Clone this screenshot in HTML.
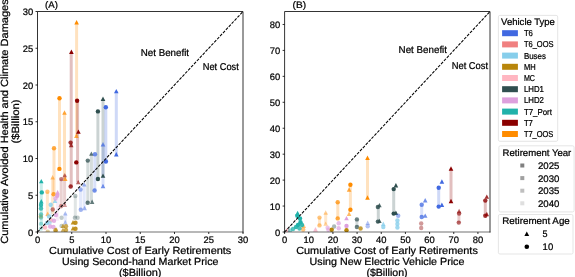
<!DOCTYPE html><html><head><meta charset="utf-8"><style>html,body{margin:0;padding:0;background:#fff;overflow:hidden}svg{display:block;will-change:transform}text{text-rendering:geometricPrecision}</style></head><body><svg width="575" height="277" viewBox="0 0 575 277" font-family="'Liberation Sans', sans-serif" fill="#000">
<defs><clipPath id="ca"><rect x="37.5" y="11.5" width="205.5" height="220.5"/></clipPath><clipPath id="cb"><rect x="284.6" y="11.5" width="205.4" height="220.5"/></clipPath></defs>
<rect width="575" height="277" fill="#fff"/>
<g clip-path="url(#ca)">
<rect x="75.10" y="22.40" width="3" height="113.60" fill="#FF8C00" fill-opacity="0.25"/>
<rect x="69.70" y="51.90" width="3" height="134.70" fill="#8B0000" fill-opacity="0.25"/>
<rect x="58.00" y="98.20" width="3" height="70.80" fill="#FF8C00" fill-opacity="0.25"/>
<rect x="76.10" y="100.80" width="3" height="81.50" fill="#8B0000" fill-opacity="0.25"/>
<rect x="63.00" y="112.70" width="3" height="66.30" fill="#FF8C00" fill-opacity="0.25"/>
<rect x="52.50" y="148.20" width="3" height="46.10" fill="#FF8C00" fill-opacity="0.25"/>
<rect x="51.10" y="177.50" width="3" height="36.50" fill="#FF8C00" fill-opacity="0.2"/>
<rect x="45.90" y="191.70" width="3" height="24.70" fill="#FF8C00" fill-opacity="0.2"/>
<rect x="63.10" y="174.70" width="3" height="30.30" fill="#8B0000" fill-opacity="0.18"/>
<rect x="59.70" y="178.80" width="3" height="27.50" fill="#8B0000" fill-opacity="0.18"/>
<rect x="96.40" y="111.40" width="3" height="67.60" fill="#2F4F4F" fill-opacity="0.25"/>
<rect x="101.50" y="99.00" width="3" height="76.80" fill="#2F4F4F" fill-opacity="0.25"/>
<rect x="86.30" y="160.60" width="3" height="42.30" fill="#2F4F4F" fill-opacity="0.2"/>
<rect x="89.90" y="153.80" width="3" height="48.10" fill="#2F4F4F" fill-opacity="0.2"/>
<rect x="73.80" y="196.00" width="3" height="21.70" fill="#2F4F4F" fill-opacity="0.15"/>
<rect x="114.80" y="91.30" width="3" height="63.10" fill="#4169E1" fill-opacity="0.25"/>
<rect x="104.30" y="107.20" width="3" height="54.30" fill="#4169E1" fill-opacity="0.25"/>
<rect x="101.50" y="144.40" width="3" height="41.80" fill="#4169E1" fill-opacity="0.2"/>
<rect x="93.30" y="154.30" width="3" height="36.20" fill="#4169E1" fill-opacity="0.2"/>
<rect x="82.70" y="184.40" width="3" height="23.90" fill="#4169E1" fill-opacity="0.15"/>
<rect x="79.10" y="189.50" width="3" height="20.30" fill="#4169E1" fill-opacity="0.15"/>
<rect x="39.80" y="181.30" width="3" height="43.70" fill="#20B2AA" fill-opacity="0.25"/>
<rect x="49.20" y="204.70" width="3" height="18.00" fill="#87CEEB" fill-opacity="0.2"/>
<rect x="55.90" y="192.40" width="3" height="28.40" fill="#DDA0DD" fill-opacity="0.2"/>
<rect x="63.80" y="213.50" width="3" height="9.00" fill="#4169E1" fill-opacity="0.15"/>
<path d="M76.60 20.00L78.90 24.40L74.30 24.40Z" fill="#FF8C00" fill-opacity="1"/>
<path d="M76.40 133.50L78.70 137.90L74.10 137.90Z" fill="#FF8C00" fill-opacity="0.75"/>
<path d="M71.40 49.50L73.70 53.90L69.10 53.90Z" fill="#8B0000" fill-opacity="1"/>
<circle cx="70.6" cy="142.6" r="2.2" fill="#8B0000" fill-opacity="0.75"/>
<path d="M71.20 142.80L73.50 147.20L68.90 147.20Z" fill="#8B0000" fill-opacity="0.75"/>
<circle cx="59.5" cy="98.2" r="2.2" fill="#FF8C00" fill-opacity="1"/>
<circle cx="59.4" cy="168.9" r="2.2" fill="#FF8C00" fill-opacity="1"/>
<circle cx="77.1" cy="100.8" r="2.2" fill="#8B0000" fill-opacity="1"/>
<circle cx="76.3" cy="162.4" r="2.2" fill="#8B0000" fill-opacity="1"/>
<path d="M78.40 129.40L80.70 133.80L76.10 133.80Z" fill="#8B0000" fill-opacity="1"/>
<path d="M64.50 110.30L66.80 114.70L62.20 114.70Z" fill="#FF8C00" fill-opacity="0.75"/>
<path d="M65.20 176.60L67.50 181.00L62.90 181.00Z" fill="#FF8C00" fill-opacity="0.75"/>
<circle cx="54" cy="148.2" r="2.2" fill="#FF8C00" fill-opacity="0.75"/>
<circle cx="53.6" cy="194.3" r="2.2" fill="#FF8C00" fill-opacity="0.75"/>
<path d="M52.60 175.10L54.90 179.50L50.30 179.50Z" fill="#FF8C00" fill-opacity="0.5"/>
<path d="M47.70 211.50L50.00 215.90L45.40 215.90Z" fill="#FF8C00" fill-opacity="0.5"/>
<circle cx="47.4" cy="191.7" r="2.2" fill="#FF8C00" fill-opacity="0.5"/>
<circle cx="40.8" cy="216.4" r="2.2" fill="#FF8C00" fill-opacity="0.5"/>
<path d="M64.80 172.90L67.10 177.30L62.50 177.30Z" fill="#8B0000" fill-opacity="0.5"/>
<circle cx="70.7" cy="186.5" r="2.2" fill="#8B0000" fill-opacity="0.8"/>
<path d="M78.20 179.90L80.50 184.30L75.90 184.30Z" fill="#8B0000" fill-opacity="0.6"/>
<path d="M64.80 202.60L67.10 207.00L62.50 207.00Z" fill="#8B0000" fill-opacity="0.4"/>
<circle cx="61" cy="206.3" r="2.2" fill="#8B0000" fill-opacity="0.4"/>
<circle cx="52.8" cy="209.5" r="2.2" fill="#8B0000" fill-opacity="0.5"/>
<circle cx="61.3" cy="179.1" r="2.2" fill="#8B0000" fill-opacity="0.5"/>
<circle cx="50.9" cy="220.2" r="2.2" fill="#FFB6C1" fill-opacity="0.9"/>
<circle cx="45" cy="227.5" r="2.2" fill="#FFB6C1" fill-opacity="0.9"/>
<circle cx="97.9" cy="111.4" r="2.2" fill="#2F4F4F" fill-opacity="1"/>
<path d="M103.00 96.60L105.30 101.00L100.70 101.00Z" fill="#2F4F4F" fill-opacity="1"/>
<circle cx="97.9" cy="179" r="2.2" fill="#2F4F4F" fill-opacity="1"/>
<path d="M103.00 173.40L105.30 177.80L100.70 177.80Z" fill="#2F4F4F" fill-opacity="1"/>
<circle cx="87.8" cy="160.6" r="2.2" fill="#2F4F4F" fill-opacity="0.75"/>
<path d="M91.40 151.40L93.70 155.80L89.10 155.80Z" fill="#2F4F4F" fill-opacity="0.75"/>
<circle cx="87.7" cy="202.8" r="2.2" fill="#2F4F4F" fill-opacity="0.75"/>
<path d="M92.10 199.50L94.40 203.90L89.80 203.90Z" fill="#2F4F4F" fill-opacity="0.75"/>
<circle cx="75.3" cy="196" r="2.2" fill="#2F4F4F" fill-opacity="0.35"/>
<circle cx="74.9" cy="217.7" r="2.2" fill="#2F4F4F" fill-opacity="0.35"/>
<circle cx="61.6" cy="217.7" r="2.2" fill="#2F4F4F" fill-opacity="0.3"/>
<circle cx="61.6" cy="225.9" r="2.2" fill="#2F4F4F" fill-opacity="0.3"/>
<circle cx="77.6" cy="217.7" r="2.2" fill="#2F4F4F" fill-opacity="0.3"/>
<path d="M116.30 88.90L118.60 93.30L114.00 93.30Z" fill="#4169E1" fill-opacity="1"/>
<path d="M116.30 152.00L118.60 156.40L114.00 156.40Z" fill="#4169E1" fill-opacity="1"/>
<circle cx="105.8" cy="107.2" r="2.2" fill="#4169E1" fill-opacity="1"/>
<circle cx="105.9" cy="161.5" r="2.2" fill="#4169E1" fill-opacity="1"/>
<path d="M103.00 142.00L105.30 146.40L100.70 146.40Z" fill="#4169E1" fill-opacity="0.75"/>
<path d="M103.00 183.80L105.30 188.20L100.70 188.20Z" fill="#4169E1" fill-opacity="0.75"/>
<circle cx="95" cy="154.3" r="2.2" fill="#4169E1" fill-opacity="0.75"/>
<circle cx="94.6" cy="190.5" r="2.2" fill="#4169E1" fill-opacity="0.75"/>
<path d="M84.20 182.00L86.50 186.40L81.90 186.40Z" fill="#4169E1" fill-opacity="0.5"/>
<path d="M84.60 205.80L86.90 210.20L82.30 210.20Z" fill="#4169E1" fill-opacity="0.5"/>
<circle cx="80.6" cy="189.5" r="2.2" fill="#4169E1" fill-opacity="0.5"/>
<circle cx="80.8" cy="209.8" r="2.2" fill="#4169E1" fill-opacity="0.5"/>
<path d="M65.30 211.10L67.60 215.50L63.00 215.50Z" fill="#4169E1" fill-opacity="0.4"/>
<path d="M65.30 220.10L67.60 224.50L63.00 224.50Z" fill="#4169E1" fill-opacity="0.4"/>
<circle cx="50.7" cy="204.7" r="2.2" fill="#87CEEB" fill-opacity="0.8"/>
<path d="M55.00 198.60L57.30 203.00L52.70 203.00Z" fill="#87CEEB" fill-opacity="0.8"/>
<circle cx="49" cy="216.4" r="2.2" fill="#87CEEB" fill-opacity="0.8"/>
<circle cx="47" cy="223" r="2.2" fill="#87CEEB" fill-opacity="0.8"/>
<circle cx="49.6" cy="222.7" r="2.2" fill="#87CEEB" fill-opacity="0.6"/>
<path d="M57.60 190.00L59.90 194.40L55.30 194.40Z" fill="#DDA0DD" fill-opacity="0.9"/>
<circle cx="57.2" cy="195.7" r="2.2" fill="#DDA0DD" fill-opacity="0.9"/>
<circle cx="55.9" cy="215" r="2.2" fill="#DDA0DD" fill-opacity="0.8"/>
<circle cx="54" cy="220.8" r="2.2" fill="#DDA0DD" fill-opacity="0.8"/>
<circle cx="50.2" cy="226.5" r="2.2" fill="#DDA0DD" fill-opacity="0.8"/>
<circle cx="53.4" cy="227" r="2.2" fill="#DDA0DD" fill-opacity="0.8"/>
<circle cx="55.5" cy="198.5" r="2.2" fill="#DDA0DD" fill-opacity="0.7"/>
<path d="M41.30 178.90L43.60 183.30L39.00 183.30Z" fill="#20B2AA" fill-opacity="1"/>
<circle cx="41.8" cy="192.4" r="2.2" fill="#20B2AA" fill-opacity="1"/>
<path d="M41.30 199.00L43.60 203.40L39.00 203.40Z" fill="#20B2AA" fill-opacity="1"/>
<circle cx="41" cy="205" r="2.2" fill="#20B2AA" fill-opacity="0.9"/>
<circle cx="41" cy="208.5" r="2.2" fill="#20B2AA" fill-opacity="0.8"/>
<circle cx="41" cy="214.5" r="2.2" fill="#20B2AA" fill-opacity="0.6"/>
<circle cx="41" cy="217.6" r="2.2" fill="#20B2AA" fill-opacity="0.5"/>
<circle cx="41" cy="223.9" r="2.2" fill="#20B2AA" fill-opacity="0.4"/>
<circle cx="41" cy="228.5" r="2.2" fill="#20B2AA" fill-opacity="0.3"/>
<path d="M73.00 220.10L75.30 224.50L70.70 224.50Z" fill="#B8860B" fill-opacity="0.9"/>
<circle cx="75.5" cy="222.7" r="2.2" fill="#B8860B" fill-opacity="0.9"/>
<path d="M73.00 226.10L75.30 230.50L70.70 230.50Z" fill="#B8860B" fill-opacity="0.9"/>
<circle cx="75.5" cy="228.7" r="2.2" fill="#B8860B" fill-opacity="0.9"/>
<path d="M63.00 223.60L65.30 228.00L60.70 228.00Z" fill="#B8860B" fill-opacity="0.7"/>
<circle cx="66" cy="226.2" r="2.2" fill="#B8860B" fill-opacity="0.7"/>
<path d="M63.00 227.40L65.30 231.80L60.70 231.80Z" fill="#B8860B" fill-opacity="0.7"/>
<circle cx="66" cy="230" r="2.2" fill="#B8860B" fill-opacity="0.7"/>
<circle cx="55.5" cy="230.3" r="2.2" fill="#B8860B" fill-opacity="0.7"/>
<path d="M56.00 227.10L58.30 231.50L53.70 231.50Z" fill="#B8860B" fill-opacity="0.6"/>
<circle cx="47.7" cy="231.8" r="2.2" fill="#B8860B" fill-opacity="0.4"/>
</g>
<line x1="37.5" y1="232" x2="243" y2="11.5" stroke="#000" stroke-width="1.05" stroke-dasharray="3.0 1.25"/>
<path d="M37.5 232V11.5H243V232" fill="none" stroke="#000" stroke-width="0.8" stroke-linecap="square"/>
<line x1="37.1" y1="232" x2="243.4" y2="232" stroke="#000" stroke-width="0.56"/>
<line x1="37.50" y1="232" x2="37.50" y2="234" stroke="#000" stroke-width="0.8"/>
<text x="37.50" y="242.6" font-size="9.4" text-anchor="middle" stroke="#000" stroke-width="0.24" >0</text>
<line x1="71.75" y1="232" x2="71.75" y2="234" stroke="#000" stroke-width="0.8"/>
<text x="71.75" y="242.6" font-size="9.4" text-anchor="middle" stroke="#000" stroke-width="0.24" >5</text>
<line x1="106.00" y1="232" x2="106.00" y2="234" stroke="#000" stroke-width="0.8"/>
<text x="106.00" y="242.6" font-size="9.4" text-anchor="middle" stroke="#000" stroke-width="0.24" >10</text>
<line x1="140.25" y1="232" x2="140.25" y2="234" stroke="#000" stroke-width="0.8"/>
<text x="140.25" y="242.6" font-size="9.4" text-anchor="middle" stroke="#000" stroke-width="0.24" >15</text>
<line x1="174.50" y1="232" x2="174.50" y2="234" stroke="#000" stroke-width="0.8"/>
<text x="174.50" y="242.6" font-size="9.4" text-anchor="middle" stroke="#000" stroke-width="0.24" >20</text>
<line x1="208.75" y1="232" x2="208.75" y2="234" stroke="#000" stroke-width="0.8"/>
<text x="208.75" y="242.6" font-size="9.4" text-anchor="middle" stroke="#000" stroke-width="0.24" >25</text>
<line x1="243.00" y1="232" x2="243.00" y2="234" stroke="#000" stroke-width="0.8"/>
<text x="243.00" y="242.6" font-size="9.4" text-anchor="middle" stroke="#000" stroke-width="0.24" >30</text>
<line x1="35.5" y1="232.00" x2="37.5" y2="232.00" stroke="#000" stroke-width="0.8"/>
<text x="33.20" y="235.50" font-size="9.4" text-anchor="end" stroke="#000" stroke-width="0.24" >0</text>
<line x1="35.5" y1="195.25" x2="37.5" y2="195.25" stroke="#000" stroke-width="0.8"/>
<text x="33.20" y="198.75" font-size="9.4" text-anchor="end" stroke="#000" stroke-width="0.24" >5</text>
<line x1="35.5" y1="158.50" x2="37.5" y2="158.50" stroke="#000" stroke-width="0.8"/>
<text x="33.20" y="162.00" font-size="9.4" text-anchor="end" stroke="#000" stroke-width="0.24" >10</text>
<line x1="35.5" y1="121.75" x2="37.5" y2="121.75" stroke="#000" stroke-width="0.8"/>
<text x="33.20" y="125.25" font-size="9.4" text-anchor="end" stroke="#000" stroke-width="0.24" >15</text>
<line x1="35.5" y1="85.00" x2="37.5" y2="85.00" stroke="#000" stroke-width="0.8"/>
<text x="33.20" y="88.50" font-size="9.4" text-anchor="end" stroke="#000" stroke-width="0.24" >20</text>
<line x1="35.5" y1="48.25" x2="37.5" y2="48.25" stroke="#000" stroke-width="0.8"/>
<text x="33.20" y="51.75" font-size="9.4" text-anchor="end" stroke="#000" stroke-width="0.24" >25</text>
<line x1="35.5" y1="11.50" x2="37.5" y2="11.50" stroke="#000" stroke-width="0.8"/>
<text x="33.20" y="15.00" font-size="9.4" text-anchor="end" stroke="#000" stroke-width="0.24" >30</text>
<text x="45.1" y="7.7" font-size="9.5" text-anchor="start" textLength="12.8" lengthAdjust="spacingAndGlyphs" stroke="#000" stroke-width="0.24" >(A)</text>
<text x="140.7" y="55.8" font-size="9.9" text-anchor="start" textLength="48.4" lengthAdjust="spacingAndGlyphs" stroke="#000" stroke-width="0.24" >Net Benefit</text>
<text x="202.7" y="69.9" font-size="9.9" text-anchor="start" textLength="36.1" lengthAdjust="spacingAndGlyphs" stroke="#000" stroke-width="0.24" >Net Cost</text>
<text x="140.2" y="253.5" font-size="10.4" text-anchor="middle" textLength="182.3" lengthAdjust="spacingAndGlyphs" stroke="#000" stroke-width="0.24" >Cumulative Cost of Early Retirements</text>
<text x="140.2" y="264.5" font-size="10.4" text-anchor="middle" textLength="156.4" lengthAdjust="spacingAndGlyphs" stroke="#000" stroke-width="0.24" >Using Second-hand Market Price</text>
<text x="140.2" y="275.5" font-size="10.4" text-anchor="middle" textLength="42.6" lengthAdjust="spacingAndGlyphs" stroke="#000" stroke-width="0.24" >($Billion)</text>
<g transform="rotate(-90)">
<text x="-121.5" y="8.2" font-size="10.4" text-anchor="middle" textLength="244.5" lengthAdjust="spacingAndGlyphs" stroke="#000" stroke-width="0.24" >Cumulative Avoided Health and Climate Damages</text>
<text x="-121.5" y="19.3" font-size="10.4" text-anchor="middle" textLength="44" lengthAdjust="spacingAndGlyphs" stroke="#000" stroke-width="0.24" >($Billion)</text>
</g>
<g clip-path="url(#cb)">
<rect x="366.00" y="158.00" width="3" height="39.70" fill="#FF8C00" fill-opacity="0.25"/>
<rect x="348.90" y="184.70" width="3" height="25.00" fill="#FF8C00" fill-opacity="0.25"/>
<rect x="336.30" y="202.20" width="3" height="16.20" fill="#FF8C00" fill-opacity="0.25"/>
<rect x="318.00" y="217.60" width="3" height="7.80" fill="#FF8C00" fill-opacity="0.2"/>
<rect x="324.20" y="212.70" width="3" height="11.10" fill="#FF8C00" fill-opacity="0.2"/>
<rect x="392.20" y="189.10" width="3" height="24.50" fill="#2F4F4F" fill-opacity="0.25"/>
<rect x="376.80" y="207.00" width="3" height="14.60" fill="#2F4F4F" fill-opacity="0.25"/>
<rect x="355.40" y="219.40" width="3" height="7.60" fill="#2F4F4F" fill-opacity="0.2"/>
<rect x="437.20" y="187.70" width="3" height="18.90" fill="#4169E1" fill-opacity="0.25"/>
<rect x="420.20" y="204.70" width="3" height="12.30" fill="#4169E1" fill-opacity="0.2"/>
<rect x="449.50" y="168.70" width="3" height="32.50" fill="#8B0000" fill-opacity="0.25"/>
<rect x="483.80" y="200.60" width="3" height="15.20" fill="#8B0000" fill-opacity="0.25"/>
<rect x="457.40" y="213.50" width="3" height="9.10" fill="#8B0000" fill-opacity="0.2"/>
<path d="M367.50 155.60L369.80 160.00L365.20 160.00Z" fill="#FF8C00" fill-opacity="1"/>
<path d="M367.50 195.30L369.80 199.70L365.20 199.70Z" fill="#FF8C00" fill-opacity="1"/>
<circle cx="350.4" cy="184.7" r="2.2" fill="#FF8C00" fill-opacity="1"/>
<path d="M349.10 187.30L351.40 191.70L346.80 191.70Z" fill="#FF8C00" fill-opacity="0.75"/>
<circle cx="350.4" cy="209.7" r="2.2" fill="#FF8C00" fill-opacity="1"/>
<path d="M349.10 211.60L351.40 216.00L346.80 216.00Z" fill="#FF8C00" fill-opacity="0.6"/>
<circle cx="337.7" cy="202.2" r="2.2" fill="#FF8C00" fill-opacity="0.75"/>
<circle cx="337.7" cy="218.4" r="2.2" fill="#FF8C00" fill-opacity="0.75"/>
<circle cx="319.5" cy="217.6" r="2.2" fill="#FF8C00" fill-opacity="0.5"/>
<circle cx="319.5" cy="225.4" r="2.2" fill="#FF8C00" fill-opacity="0.5"/>
<path d="M325.70 210.30L328.00 214.70L323.40 214.70Z" fill="#FF8C00" fill-opacity="0.4"/>
<path d="M325.70 221.40L328.00 225.80L323.40 225.80Z" fill="#FF8C00" fill-opacity="0.4"/>
<path d="M303.70 223.60L306.00 228.00L301.40 228.00Z" fill="#FF8C00" fill-opacity="0.5"/>
<circle cx="303.2" cy="229.5" r="2.2" fill="#FF8C00" fill-opacity="0.5"/>
<path d="M395.90 183.00L398.20 187.40L393.60 187.40Z" fill="#2F4F4F" fill-opacity="1"/>
<circle cx="393.7" cy="189.1" r="2.2" fill="#2F4F4F" fill-opacity="1"/>
<circle cx="393.7" cy="213.6" r="2.2" fill="#2F4F4F" fill-opacity="1"/>
<path d="M395.90 210.50L398.20 214.90L393.60 214.90Z" fill="#2F4F4F" fill-opacity="1"/>
<path d="M379.40 202.90L381.70 207.30L377.10 207.30Z" fill="#2F4F4F" fill-opacity="0.85"/>
<circle cx="377.9" cy="207" r="2.2" fill="#2F4F4F" fill-opacity="0.85"/>
<circle cx="377.9" cy="221.6" r="2.2" fill="#2F4F4F" fill-opacity="0.85"/>
<path d="M379.40 218.70L381.70 223.10L377.10 223.10Z" fill="#2F4F4F" fill-opacity="0.85"/>
<circle cx="356.9" cy="219.4" r="2.2" fill="#2F4F4F" fill-opacity="0.7"/>
<circle cx="356.9" cy="227" r="2.2" fill="#2F4F4F" fill-opacity="0.7"/>
<circle cx="334.1" cy="226.5" r="2.2" fill="#2F4F4F" fill-opacity="0.4"/>
<path d="M441.90 179.30L444.20 183.70L439.60 183.70Z" fill="#4169E1" fill-opacity="1"/>
<circle cx="438.7" cy="187.7" r="2.2" fill="#4169E1" fill-opacity="1"/>
<circle cx="438.7" cy="206.6" r="2.2" fill="#4169E1" fill-opacity="1"/>
<path d="M441.90 202.60L444.20 207.00L439.60 207.00Z" fill="#4169E1" fill-opacity="1"/>
<path d="M425.20 198.10L427.50 202.50L422.90 202.50Z" fill="#4169E1" fill-opacity="0.75"/>
<circle cx="421.7" cy="204.7" r="2.2" fill="#4169E1" fill-opacity="0.75"/>
<circle cx="421.7" cy="217" r="2.2" fill="#4169E1" fill-opacity="0.75"/>
<path d="M425.20 213.40L427.50 217.80L422.90 217.80Z" fill="#4169E1" fill-opacity="0.75"/>
<circle cx="398.2" cy="215.8" r="2.2" fill="#4169E1" fill-opacity="0.5"/>
<circle cx="367.7" cy="226.3" r="2.2" fill="#4169E1" fill-opacity="0.4"/>
<path d="M367.70 220.60L370.00 225.00L365.40 225.00Z" fill="#4169E1" fill-opacity="0.4"/>
<circle cx="383.3" cy="227" r="2.2" fill="#87CEEB" fill-opacity="0.8"/>
<path d="M383.30 221.60L385.60 226.00L381.00 226.00Z" fill="#87CEEB" fill-opacity="0.8"/>
<circle cx="397.4" cy="220.5" r="2.2" fill="#87CEEB" fill-opacity="0.8"/>
<circle cx="397.4" cy="224" r="2.2" fill="#87CEEB" fill-opacity="0.8"/>
<circle cx="397.4" cy="227.5" r="2.2" fill="#87CEEB" fill-opacity="0.8"/>
<circle cx="421.2" cy="223.5" r="2.2" fill="#8B0000" fill-opacity="0.4"/>
<circle cx="421.2" cy="228" r="2.2" fill="#8B0000" fill-opacity="0.4"/>
<path d="M451.00 166.30L453.30 170.70L448.70 170.70Z" fill="#8B0000" fill-opacity="1"/>
<path d="M451.00 198.80L453.30 203.20L448.70 203.20Z" fill="#8B0000" fill-opacity="1"/>
<path d="M486.80 194.40L489.10 198.80L484.50 198.80Z" fill="#8B0000" fill-opacity="0.8"/>
<circle cx="485.3" cy="200.6" r="2.2" fill="#8B0000" fill-opacity="0.8"/>
<circle cx="485.3" cy="215.8" r="2.2" fill="#8B0000" fill-opacity="0.8"/>
<path d="M486.80 211.80L489.10 216.20L484.50 216.20Z" fill="#8B0000" fill-opacity="0.8"/>
<path d="M459.10 208.80L461.40 213.20L456.80 213.20Z" fill="#8B0000" fill-opacity="0.6"/>
<circle cx="459.1" cy="213.5" r="2.2" fill="#8B0000" fill-opacity="0.6"/>
<circle cx="458.8" cy="222.6" r="2.2" fill="#8B0000" fill-opacity="0.6"/>
<path d="M346.50 215.90L348.80 220.30L344.20 220.30Z" fill="#DDA0DD" fill-opacity="1"/>
<circle cx="346.5" cy="225.9" r="2.2" fill="#DDA0DD" fill-opacity="1"/>
<circle cx="338.7" cy="223.3" r="2.2" fill="#DDA0DD" fill-opacity="0.7"/>
<circle cx="338.7" cy="228.2" r="2.2" fill="#DDA0DD" fill-opacity="0.7"/>
<circle cx="327.6" cy="227.7" r="2.2" fill="#DDA0DD" fill-opacity="0.6"/>
<circle cx="328.4" cy="229.8" r="2.2" fill="#DDA0DD" fill-opacity="0.6"/>
<path d="M315.40 227.10L317.70 231.50L313.10 231.50Z" fill="#DDA0DD" fill-opacity="0.5"/>
<circle cx="346.5" cy="230.2" r="2.2" fill="#B8860B" fill-opacity="1"/>
<circle cx="331.7" cy="229.8" r="2.2" fill="#B8860B" fill-opacity="1"/>
<circle cx="360.6" cy="228.5" r="2.2" fill="#B8860B" fill-opacity="0.8"/>
<circle cx="287.8" cy="230.4" r="2.2" fill="#FFB6C1" fill-opacity="0.9"/>
<path d="M315.60 227.40L317.90 231.80L313.30 231.80Z" fill="#FFB6C1" fill-opacity="0.7"/>
<path d="M297.60 210.80L299.90 215.20L295.30 215.20Z" fill="#20B2AA" fill-opacity="1"/>
<circle cx="297.3" cy="215.8" r="2.2" fill="#20B2AA" fill-opacity="1"/>
<circle cx="300" cy="218.5" r="2.2" fill="#20B2AA" fill-opacity="1"/>
<circle cx="300.5" cy="222.3" r="2.2" fill="#20B2AA" fill-opacity="1"/>
<circle cx="302" cy="225" r="2.2" fill="#20B2AA" fill-opacity="0.9"/>
<circle cx="298" cy="225" r="2.2" fill="#20B2AA" fill-opacity="1"/>
<circle cx="296" cy="227" r="2.2" fill="#20B2AA" fill-opacity="0.9"/>
<circle cx="293" cy="229" r="2.2" fill="#20B2AA" fill-opacity="0.75"/>
<circle cx="290" cy="230.5" r="2.2" fill="#20B2AA" fill-opacity="0.5"/>
<circle cx="299.5" cy="228.5" r="2.2" fill="#20B2AA" fill-opacity="0.8"/>
</g>
<line x1="284.6" y1="232" x2="490" y2="11.5" stroke="#000" stroke-width="1.05" stroke-dasharray="3.0 1.25"/>
<path d="M284.6 232V11.5H490V232" fill="none" stroke="#000" stroke-width="0.8" stroke-linecap="square"/>
<line x1="284.20000000000005" y1="232" x2="490.4" y2="232" stroke="#000" stroke-width="0.56"/>
<line x1="284.60" y1="232" x2="284.60" y2="234" stroke="#000" stroke-width="0.8"/>
<text x="284.60" y="242.6" font-size="9.4" text-anchor="middle" stroke="#000" stroke-width="0.24" >0</text>
<line x1="308.76" y1="232" x2="308.76" y2="234" stroke="#000" stroke-width="0.8"/>
<text x="308.76" y="242.6" font-size="9.4" text-anchor="middle" stroke="#000" stroke-width="0.24" >10</text>
<line x1="332.93" y1="232" x2="332.93" y2="234" stroke="#000" stroke-width="0.8"/>
<text x="332.93" y="242.6" font-size="9.4" text-anchor="middle" stroke="#000" stroke-width="0.24" >20</text>
<line x1="357.09" y1="232" x2="357.09" y2="234" stroke="#000" stroke-width="0.8"/>
<text x="357.09" y="242.6" font-size="9.4" text-anchor="middle" stroke="#000" stroke-width="0.24" >30</text>
<line x1="381.26" y1="232" x2="381.26" y2="234" stroke="#000" stroke-width="0.8"/>
<text x="381.26" y="242.6" font-size="9.4" text-anchor="middle" stroke="#000" stroke-width="0.24" >40</text>
<line x1="405.42" y1="232" x2="405.42" y2="234" stroke="#000" stroke-width="0.8"/>
<text x="405.42" y="242.6" font-size="9.4" text-anchor="middle" stroke="#000" stroke-width="0.24" >50</text>
<line x1="429.59" y1="232" x2="429.59" y2="234" stroke="#000" stroke-width="0.8"/>
<text x="429.59" y="242.6" font-size="9.4" text-anchor="middle" stroke="#000" stroke-width="0.24" >60</text>
<line x1="453.75" y1="232" x2="453.75" y2="234" stroke="#000" stroke-width="0.8"/>
<text x="453.75" y="242.6" font-size="9.4" text-anchor="middle" stroke="#000" stroke-width="0.24" >70</text>
<line x1="477.92" y1="232" x2="477.92" y2="234" stroke="#000" stroke-width="0.8"/>
<text x="477.92" y="242.6" font-size="9.4" text-anchor="middle" stroke="#000" stroke-width="0.24" >80</text>
<line x1="282.6" y1="232.00" x2="284.6" y2="232.00" stroke="#000" stroke-width="0.8"/>
<text x="280.30" y="235.50" font-size="9.4" text-anchor="end" stroke="#000" stroke-width="0.24" >0</text>
<line x1="282.6" y1="206.06" x2="284.6" y2="206.06" stroke="#000" stroke-width="0.8"/>
<text x="280.30" y="209.56" font-size="9.4" text-anchor="end" stroke="#000" stroke-width="0.24" >10</text>
<line x1="282.6" y1="180.12" x2="284.6" y2="180.12" stroke="#000" stroke-width="0.8"/>
<text x="280.30" y="183.62" font-size="9.4" text-anchor="end" stroke="#000" stroke-width="0.24" >20</text>
<line x1="282.6" y1="154.18" x2="284.6" y2="154.18" stroke="#000" stroke-width="0.8"/>
<text x="280.30" y="157.68" font-size="9.4" text-anchor="end" stroke="#000" stroke-width="0.24" >30</text>
<line x1="282.6" y1="128.24" x2="284.6" y2="128.24" stroke="#000" stroke-width="0.8"/>
<text x="280.30" y="131.74" font-size="9.4" text-anchor="end" stroke="#000" stroke-width="0.24" >40</text>
<line x1="282.6" y1="102.29" x2="284.6" y2="102.29" stroke="#000" stroke-width="0.8"/>
<text x="280.30" y="105.79" font-size="9.4" text-anchor="end" stroke="#000" stroke-width="0.24" >50</text>
<line x1="282.6" y1="76.35" x2="284.6" y2="76.35" stroke="#000" stroke-width="0.8"/>
<text x="280.30" y="79.85" font-size="9.4" text-anchor="end" stroke="#000" stroke-width="0.24" >60</text>
<line x1="282.6" y1="50.41" x2="284.6" y2="50.41" stroke="#000" stroke-width="0.8"/>
<text x="280.30" y="53.91" font-size="9.4" text-anchor="end" stroke="#000" stroke-width="0.24" >70</text>
<line x1="282.6" y1="24.47" x2="284.6" y2="24.47" stroke="#000" stroke-width="0.8"/>
<text x="280.30" y="27.97" font-size="9.4" text-anchor="end" stroke="#000" stroke-width="0.24" >80</text>
<text x="292.6" y="7.7" font-size="9.5" text-anchor="start" textLength="13.5" lengthAdjust="spacingAndGlyphs" stroke="#000" stroke-width="0.24" >(B)</text>
<text x="398.6" y="53.2" font-size="9.9" text-anchor="start" textLength="48.4" lengthAdjust="spacingAndGlyphs" stroke="#000" stroke-width="0.24" >Net Benefit</text>
<text x="451.7" y="68.9" font-size="9.9" text-anchor="start" textLength="36.4" lengthAdjust="spacingAndGlyphs" stroke="#000" stroke-width="0.24" >Net Cost</text>
<text x="387" y="253.5" font-size="10.4" text-anchor="middle" textLength="181.7" lengthAdjust="spacingAndGlyphs" stroke="#000" stroke-width="0.24" >Cumulative Cost of Early Retirements</text>
<text x="387" y="264.5" font-size="10.4" text-anchor="middle" textLength="154.9" lengthAdjust="spacingAndGlyphs" stroke="#000" stroke-width="0.24" >Using New Electric Vehicle Price</text>
<text x="387" y="275.5" font-size="10.4" text-anchor="middle" textLength="41.2" lengthAdjust="spacingAndGlyphs" stroke="#000" stroke-width="0.24" >($Billion)</text>
<rect x="498.4" y="15.4" width="59.3" height="125.9" rx="1.5" fill="#fff" stroke="#dedede" stroke-width="0.8"/>
<text x="501.1" y="24.7" font-size="9.5" text-anchor="start" textLength="53.8" lengthAdjust="spacingAndGlyphs" stroke="#000" stroke-width="0.24" >Vehicle Type</text>
<rect x="502.1" y="30.20" width="15.8" height="6" fill="#4169E1"/>
<text x="523.9" y="36.20" font-size="8.6" text-anchor="start" textLength="9" lengthAdjust="spacingAndGlyphs" stroke="#000" stroke-width="0.24" >T6</text>
<rect x="502.1" y="41.40" width="15.8" height="6" fill="#F08080"/>
<text x="523.9" y="47.40" font-size="8.6" text-anchor="start" textLength="29.6" lengthAdjust="spacingAndGlyphs" stroke="#000" stroke-width="0.24" >T6_OOS</text>
<rect x="502.1" y="52.60" width="15.8" height="6" fill="#87CEEB"/>
<text x="523.9" y="58.60" font-size="8.6" text-anchor="start" textLength="22.1" lengthAdjust="spacingAndGlyphs" stroke="#000" stroke-width="0.24" >Buses</text>
<rect x="502.1" y="63.80" width="15.8" height="6" fill="#B8860B"/>
<text x="523.9" y="69.80" font-size="8.6" text-anchor="start" textLength="11.7" lengthAdjust="spacingAndGlyphs" stroke="#000" stroke-width="0.24" >MH</text>
<rect x="502.1" y="75.00" width="15.8" height="6" fill="#FFB6C1"/>
<text x="523.9" y="81.00" font-size="8.6" text-anchor="start" textLength="11.1" lengthAdjust="spacingAndGlyphs" stroke="#000" stroke-width="0.24" >MC</text>
<rect x="502.1" y="86.20" width="15.8" height="6" fill="#2F4F4F"/>
<text x="523.9" y="92.20" font-size="8.6" text-anchor="start" textLength="20" lengthAdjust="spacingAndGlyphs" stroke="#000" stroke-width="0.24" >LHD1</text>
<rect x="502.1" y="97.40" width="15.8" height="6" fill="#DDA0DD"/>
<text x="523.9" y="103.40" font-size="8.6" text-anchor="start" textLength="20" lengthAdjust="spacingAndGlyphs" stroke="#000" stroke-width="0.24" >LHD2</text>
<rect x="502.1" y="108.60" width="15.8" height="6" fill="#20B2AA"/>
<text x="523.9" y="114.60" font-size="8.6" text-anchor="start" textLength="28" lengthAdjust="spacingAndGlyphs" stroke="#000" stroke-width="0.24" >T7_Port</text>
<rect x="502.1" y="119.80" width="15.8" height="6" fill="#8B0000"/>
<text x="523.9" y="125.80" font-size="8.6" text-anchor="start" textLength="9" lengthAdjust="spacingAndGlyphs" stroke="#000" stroke-width="0.24" >T7</text>
<rect x="502.1" y="131.00" width="15.8" height="6" fill="#FF8C00"/>
<text x="523.9" y="137.00" font-size="8.6" text-anchor="start" textLength="29.4" lengthAdjust="spacingAndGlyphs" stroke="#000" stroke-width="0.24" >T7_OOS</text>
<rect x="498.9" y="145.8" width="75.2" height="66.1" rx="1.5" fill="#fff" stroke="#dedede" stroke-width="0.8"/>
<text x="502.6" y="156.3" font-size="9.5" text-anchor="start" textLength="68.7" lengthAdjust="spacingAndGlyphs" stroke="#000" stroke-width="0.24" >Retirement Year</text>
<rect x="520.3" y="163.50" width="4" height="4" fill="#808080"/>
<text x="538" y="169.00" font-size="9.5" text-anchor="start" textLength="21.4" lengthAdjust="spacingAndGlyphs" stroke="#000" stroke-width="0.24" >2025</text>
<rect x="520.3" y="176.10" width="4" height="4" fill="#a0a0a0"/>
<text x="538" y="181.60" font-size="9.5" text-anchor="start" textLength="21.4" lengthAdjust="spacingAndGlyphs" stroke="#000" stroke-width="0.24" >2030</text>
<rect x="520.3" y="188.70" width="4" height="4" fill="#bfbfbf"/>
<text x="538" y="194.20" font-size="9.5" text-anchor="start" textLength="21.4" lengthAdjust="spacingAndGlyphs" stroke="#000" stroke-width="0.24" >2035</text>
<rect x="520.3" y="201.30" width="4" height="4" fill="#dfdfdf"/>
<text x="538" y="206.80" font-size="9.5" text-anchor="start" textLength="21.4" lengthAdjust="spacingAndGlyphs" stroke="#000" stroke-width="0.24" >2040</text>
<rect x="498.4" y="214.5" width="74.6" height="39.5" rx="1.5" fill="#fff" stroke="#dedede" stroke-width="0.8"/>
<text x="502.3" y="224.4" font-size="9.5" text-anchor="start" textLength="67.5" lengthAdjust="spacingAndGlyphs" stroke="#000" stroke-width="0.24" >Retirement Age</text>
<path d="M526.8 231.6L529.1999999999999 236.1L524.4 236.1Z" fill="#000"/>
<circle cx="526.8" cy="246.7" r="2.3" fill="#000"/>
<text x="542.6" y="237.2" font-size="9.5" text-anchor="start" textLength="5" lengthAdjust="spacingAndGlyphs" stroke="#000" stroke-width="0.24" >5</text>
<text x="542.6" y="249.8" font-size="9.5" text-anchor="start" textLength="10.6" lengthAdjust="spacingAndGlyphs" stroke="#000" stroke-width="0.24" >10</text>
</svg></body></html>
